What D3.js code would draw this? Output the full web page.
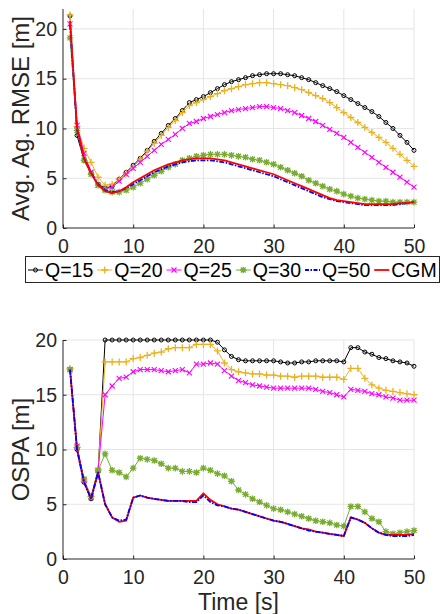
<!DOCTYPE html>
<html>
<head>
<meta charset="utf-8">
<script src="https://cdn.jsdelivr.net/npm/d3@7"></script>
<style>
    body { margin: 0; background: #fff; }
    svg { display: block; font-family: "Liberation Sans", Arial, sans-serif; }
    .grid line { stroke: #e5e5e5; stroke-width: 1; }
    .axis path, .axis line { stroke: #262626; }
    .axis text { fill: #262626; font-size: 19.5px; }
    .label { fill: #262626; font-size: 24px; }
    .legend-text { fill: #000; font-size: 19.5px; }
</style>
</head>
<body>
<svg width="440" height="614"></svg>
<script>
// Time steps 1..50
var time = d3.range(1, 51);

// Avg. Ag. RMSE [m]
var rmseQ15 = [21.3, 9.3, 6.8, 5.5, 4.4, 4.0, 4.2, 4.9, 5.6, 6.3, 7.0, 7.8, 8.7, 9.5, 10.3, 11.0, 11.8, 12.6, 12.9, 13.2,
    13.6, 14.0, 14.4, 14.7, 14.9, 15.1, 15.3, 15.4, 15.5, 15.5, 15.5, 15.4, 15.3, 15.1, 14.9, 14.6, 14.3, 14.0, 13.7, 13.3,
    12.9, 12.5, 12.1, 11.7, 11.2, 10.6, 10.0, 9.3, 8.6, 7.8];
var rmseQ20 = [21.4, 10.2, 8.0, 6.6, 5.1, 4.3, 4.4, 4.9, 5.5, 6.1, 6.9, 7.7, 8.5, 9.3, 10.1, 10.8, 11.6, 12.3, 12.6, 12.9,
    13.2, 13.5, 13.8, 14.0, 14.2, 14.4, 14.5, 14.6, 14.6, 14.5, 14.4, 14.3, 14.1, 13.9, 13.6, 13.3, 13.0, 12.6, 12.1, 11.6,
    11.1, 10.6, 10.1, 9.6, 9.1, 8.6, 8.0, 7.4, 6.8, 6.2];
var rmseQ25 = [20.5, 10.3, 7.5, 5.6, 4.3, 3.9, 4.1, 4.7, 5.4, 6.0, 6.6, 7.2, 7.8, 8.4, 8.9, 9.4, 10.0, 10.5, 10.7, 11.0,
    11.2, 11.4, 11.6, 11.8, 11.9, 12.0, 12.1, 12.2, 12.2, 12.1, 12.0, 11.8, 11.6, 11.3, 11.0, 10.7, 10.3, 9.9, 9.5, 9.1,
    8.6, 8.1, 7.6, 7.1, 6.6, 6.1, 5.6, 5.1, 4.6, 4.1];
var rmseQ30 = [19.1, 9.8, 6.8, 5.4, 4.3, 3.8, 3.6, 3.6, 3.8, 4.1, 4.5, 4.9, 5.3, 5.7, 6.1, 6.4, 6.8, 7.0, 7.2, 7.3,
    7.4, 7.4, 7.4, 7.3, 7.2, 7.1, 6.9, 6.8, 6.6, 6.4, 6.1, 5.8, 5.5, 5.2, 4.8, 4.5, 4.2, 3.9, 3.7, 3.4,
    3.2, 3.0, 2.9, 2.8, 2.7, 2.7, 2.6, 2.6, 2.6, 2.6];
var rmseQ50 = [20.4, 9.9, 7.0, 5.6, 4.4, 3.8, 3.6, 3.7, 4.0, 4.4, 4.8, 5.2, 5.6, 5.9, 6.2, 6.4, 6.6, 6.7, 6.8, 6.8,
    6.8, 6.7, 6.6, 6.4, 6.2, 6.0, 5.8, 5.6, 5.4, 5.2, 4.9, 4.6, 4.3, 4.0, 3.7, 3.4, 3.1, 2.9, 2.7, 2.6,
    2.5, 2.4, 2.3, 2.3, 2.3, 2.3, 2.3, 2.4, 2.5, 2.6];
var rmseCGM = [20.8, 10.1, 7.0, 5.5, 4.3, 3.7, 3.5, 3.7, 4.1, 4.6, 5.0, 5.4, 5.8, 6.1, 6.4, 6.6, 6.8, 6.9, 7.0, 7.0,
    7.0, 6.9, 6.8, 6.6, 6.4, 6.2, 6.0, 5.8, 5.6, 5.4, 5.1, 4.8, 4.5, 4.2, 3.9, 3.6, 3.3, 3.0, 2.8, 2.7,
    2.6, 2.5, 2.4, 2.4, 2.4, 2.4, 2.4, 2.5, 2.5, 2.6];

// OSPA [m]
var ospaQ15 = [17.3, 10.0, 7.0, 5.5, 8.0, 20, 20, 20, 20, 20, 20, 20, 20, 20, 20, 20, 20, 20, 20, 20,
    20, 19.8, 19.1, 18.5, 18.2, 18.1, 18.1, 18.1, 18.1, 18.1, 18.0, 17.9, 17.9, 18.0, 18.0, 18.1, 18.1, 18.1, 18.1, 18.0,
    19.3, 19.3, 18.9, 18.7, 18.4, 18.3, 18.1, 18.0, 17.9, 17.6];
var ospaQ20 = [17.4, 10.2, 7.1, 5.7, 8.2, 18.0, 18.0, 18.0, 18.0, 18.3, 18.4, 18.6, 18.8, 18.9, 19.2, 19.3, 19.3, 19.3, 19.6, 19.6,
    19.6, 19.0, 17.9, 17.3, 17.1, 17.0, 16.9, 16.9, 16.8, 16.8, 16.7, 16.7, 16.6, 16.7, 16.7, 16.7, 16.6, 16.6, 16.6, 16.4,
    17.4, 17.4, 16.5, 15.9, 15.6, 15.4, 15.3, 15.2, 15.1, 15.0];
var ospaQ25 = [17.3, 10.3, 7.2, 5.6, 8.1, 15.0, 15.8, 16.5, 16.6, 17.1, 17.3, 17.3, 17.3, 17.2, 17.1, 17.2, 17.3, 17.0, 17.8, 17.8,
    17.9, 17.8, 17.2, 16.7, 16.3, 16.1, 15.9, 15.8, 15.7, 15.6, 15.6, 15.6, 15.6, 15.6, 15.6, 15.5, 15.3, 15.2, 15.0, 14.8,
    15.5, 15.4, 15.3, 15.1, 15.0, 14.8, 14.7, 14.5, 14.5, 14.5];
var ospaQ30 = [17.3, 10.2, 7.3, 5.7, 8.1, 9.6, 8.1, 7.9, 7.5, 8.3, 9.2, 9.1, 9.0, 8.7, 8.3, 8.3, 8.0, 8.0, 7.9, 8.3,
    8.1, 7.8, 7.6, 7.1, 6.3, 5.9, 5.5, 5.2, 4.9, 4.6, 4.5, 4.3, 4.1, 3.9, 3.7, 3.5, 3.4, 3.3, 3.1, 3.0,
    4.8, 4.8, 4.3, 3.7, 3.4, 2.5, 2.3, 2.4, 2.5, 2.6];
var ospaQ50 = [17.3, 10.0, 7.0, 5.5, 7.9, 5.0, 3.8, 3.5, 3.6, 5.6, 5.8, 5.6, 5.5, 5.4, 5.3, 5.3, 5.3, 5.2, 5.2, 5.8,
    5.2, 4.9, 4.8, 4.6, 4.5, 4.3, 4.1, 3.9, 3.7, 3.5, 3.4, 3.2, 3.0, 2.8, 2.6, 2.5, 2.4, 2.3, 2.2, 2.1,
    3.8, 3.6, 3.3, 2.8, 2.4, 2.2, 2.1, 2.1, 2.1, 2.2];
var ospaCGM = [17.3, 10.0, 7.0, 5.5, 7.9, 5.0, 3.8, 3.4, 3.5, 5.6, 5.8, 5.6, 5.5, 5.4, 5.3, 5.3, 5.3, 5.3, 5.3, 6.0,
    5.4, 5.0, 4.8, 4.6, 4.5, 4.3, 4.1, 3.9, 3.7, 3.5, 3.4, 3.2, 3.0, 2.8, 2.7, 2.5, 2.4, 2.3, 2.2, 2.1,
    3.8, 3.6, 3.3, 2.8, 2.4, 2.2, 2.2, 2.2, 2.2, 2.3];

var seriesNames = ["Q=15", "Q=20", "Q=25", "Q=30", "Q=50", "CGM"];
var seriesColors = ["#000000", "#EDB120", "#FF00FF", "#77AC30", "#0000FF", "#FF0000"];
var seriesMarkers = ["o", "+", "x", "*", null, null];
var xTicks = [0, 10, 20, 30, 40, 50];
var yTicks = [0, 5, 10, 15, 20];

var svg = d3.select("svg");
var left = 63, right = 414;

var xScale = d3.scaleLinear().domain([0, 50]).range([left, right]);

// Draw one marker glyph at (x, y)
function drawMarker(g, type, x, y, color) {
    if (type === "o") {
        g.append("circle").attr("cx", x).attr("cy", y).attr("r", 2)
            .attr("fill", "none").attr("stroke", color).attr("stroke-width", 1);
    } else if (type === "+") {
        var s = 3.5;
        g.append("path").attr("d", "M" + (x - s) + "," + y + "H" + (x + s) + "M" + x + "," + (y - s) + "V" + (y + s))
            .attr("stroke", color).attr("stroke-width", 1.3);
    } else if (type === "x") {
        var s = 2.5;
        g.append("path").attr("d", "M" + (x - s) + "," + (y - s) + "L" + (x + s) + "," + (y + s) +
            "M" + (x - s) + "," + (y + s) + "L" + (x + s) + "," + (y - s))
            .attr("stroke", color).attr("stroke-width", 1.1);
    } else if (type === "*") {
        var s = 3.3, d = 2.5;
        g.append("circle").attr("cx", x).attr("cy", y).attr("r", 1.8).attr("fill", color);
        g.append("path").attr("d", "M" + (x - s) + "," + y + "H" + (x + s) + "M" + x + "," + (y - s) + "V" + (y + s) +
            "M" + (x - d) + "," + (y - d) + "L" + (x + d) + "," + (y + d) +
            "M" + (x - d) + "," + (y + d) + "L" + (x + d) + "," + (y - d))
            .attr("stroke", color).attr("stroke-width", 1.3);
    }
}

function drawPanel(top, bottom, yMax, seriesData, yLabel, order) {
    var yScale = d3.scaleLinear().domain([0, yMax]).range([bottom, top]);
    var g = svg.append("g");

    // grid
    var grid = g.append("g").attr("class", "grid");
    grid.selectAll(".gx").data(xTicks.slice(1)).enter().append("line")
        .attr("x1", d => xScale(d)).attr("x2", d => xScale(d))
        .attr("y1", top).attr("y2", bottom);
    grid.selectAll(".gy").data(yTicks.slice(1)).enter().append("line")
        .attr("x1", left).attr("x2", right)
        .attr("y1", d => yScale(d)).attr("y2", d => yScale(d));

    // axes
    g.append("g").attr("class", "axis")
        .attr("transform", "translate(0," + bottom + ")")
        .call(d3.axisBottom(xScale).tickValues(xTicks).tickSize(-3.5).tickPadding(6).tickSizeOuter(0))
        .selectAll("text").attr("dy", "0.97em");
    g.append("g").attr("class", "axis")
        .attr("transform", "translate(" + left + ",0)")
        .call(d3.axisLeft(yScale).tickValues(yTicks).tickSize(-3.5).tickPadding(6).tickSizeOuter(0));
    g.selectAll(".axis path").attr("d", null);
    g.append("line").attr("x1", left).attr("x2", left).attr("y1", yScale(yMax)).attr("y2", bottom)
        .attr("stroke", "#262626");
    g.append("line").attr("x1", left).attr("x2", right).attr("y1", bottom).attr("y2", bottom)
        .attr("stroke", "#262626");

    // y label
    g.append("text").attr("class", "label")
        .attr("transform", "translate(29," + (top + bottom) / 2 + ") rotate(-90)")
        .attr("text-anchor", "middle")
        .text(yLabel);

    // series
    order.forEach(function (i) {
        var vals = seriesData[i];
        var line = d3.line().x((d, k) => xScale(time[k])).y(d => yScale(d));
        var p = g.append("path").datum(vals)
            .attr("fill", "none")
            .attr("stroke", seriesColors[i])
            .attr("stroke-linejoin", "round")
            .attr("stroke-width", i >= 4 ? 1.8 : 1)
            .attr("d", line);
        if (seriesNames[i] === "Q=50") p.attr("stroke-dasharray", "5,1.5,1.5,1.5");
        if (seriesMarkers[i]) {
            var mg = g.append("g");
            vals.forEach(function (v, k) {
                drawMarker(mg, seriesMarkers[i], xScale(time[k]), yScale(v), seriesColors[i]);
            });
        }
    });
    return yScale;
}

drawPanel(9, 228, 22, [rmseQ15, rmseQ20, rmseQ25, rmseQ30, rmseQ50, rmseCGM], "Avg. Ag. RMSE [m]", [0, 1, 2, 3, 4, 5]);
drawPanel(340, 559, 20, [ospaQ15, ospaQ20, ospaQ25, ospaQ30, ospaQ50, ospaCGM], "OSPA [m]", [0, 1, 2, 3, 5, 4]);

// x label
svg.append("text").attr("class", "label")
    .attr("x", (left + right) / 2).attr("y", 610)
    .attr("font-size", "23px").style("font-size", "23px")
    .attr("text-anchor", "middle")
    .text("Time [s]");

// Legend
var legend = svg.append("g");
legend.append("rect")
    .attr("x", 25.5).attr("y", 256.5).attr("width", 414).attr("height", 26)
    .attr("fill", "#fff").attr("stroke", "#262626").attr("stroke-width", 1);
var lx = 28, ly = 270;
seriesNames.forEach(function (name, i) {
    var ln = legend.append("line")
        .attr("x1", lx).attr("x2", lx + 15).attr("y1", ly).attr("y2", ly)
        .attr("stroke", seriesColors[i]).attr("stroke-width", i >= 4 ? 1.8 : 1);
    if (name === "Q=50") ln.attr("stroke-dasharray", "4,1.5,1.5,1.5");
    if (seriesMarkers[i]) drawMarker(legend, seriesMarkers[i], lx + 7.5, ly, seriesColors[i]);
    var t = legend.append("text").attr("class", "legend-text")
        .attr("x", lx + 17).attr("y", ly + 7).text(name);
    lx = lx + 17 + t.node().getComputedTextLength() + 4;
});
</script>
</body>
</html>
